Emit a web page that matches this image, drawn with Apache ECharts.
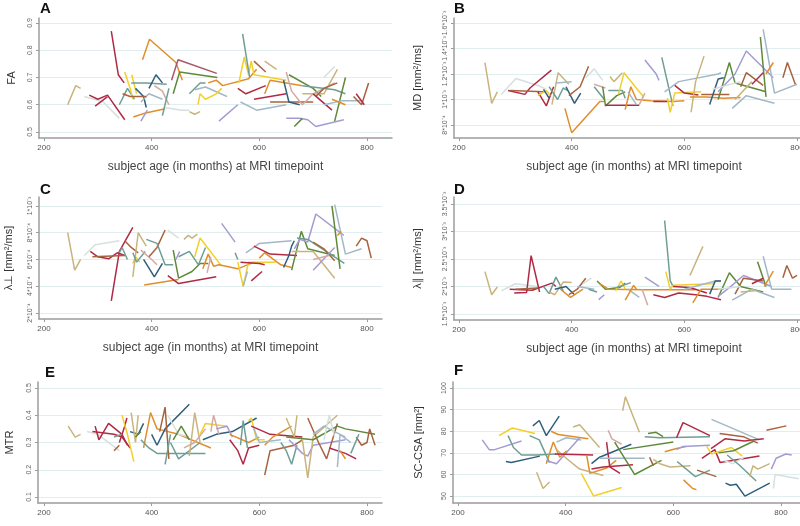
<!DOCTYPE html>
<html>
<head>
<meta charset="utf-8">
<script src="https://cdn.jsdelivr.net/npm/echarts@6/dist/echarts.min.js"></script>
<style>
  html, body { margin: 0; padding: 0; background: #fff; }
  #chart { width: 800px; height: 526px; }
</style>
</head>
<body>
<div id="chart"></div>
<script>
// x axis: subject age in months
const ageTicks = [200, 400, 600, 800];

// A: FA
const faTicks = [0.5, 0.6, 0.7, 0.8, 0.9];
const faTickLabels = ["0.5", "0.6", "0.7", "0.8", "0.9"];
const faTracks = [
  [[244,0.60],[259,0.67],[268,0.66]],
  [[275,0.63],[310,0.61],[340,0.55]],
  [[284,0.635],[300,0.62],[318,0.635],[350,0.545]],
  [[295,0.595],[318,0.63]],
  [[325,0.87],[338,0.71],[349,0.68]],
  [[340,0.60],[355,0.66],[368,0.62]],
  [[350,0.72],[360,0.66],[365,0.62]],
  [[363,0.71],[372,0.64]],
  [[362,0.68],[390,0.68],[428,0.675]],
  [[370,0.66],[385,0.63],[390,0.59]],
  [[380,0.61],[395,0.64],[420,0.62]],
  [[346,0.64],[360,0.63],[390,0.63]],
  [[383,0.765],[396,0.84],[445,0.755],[457,0.69]],
  [[366,0.555],[389,0.57],[425,0.585]],
  [[380,0.54],[392,0.58]],
  [[395,0.66],[408,0.71],[420,0.68]],
  [[405,0.67],[420,0.65],[432,0.60]],
  [[420,0.56],[432,0.66]],
  [[437,0.69],[449,0.765],[521,0.715]],
  [[440,0.64],[452,0.72],[522,0.70]],
  [[425,0.59],[455,0.58],[470,0.58]],
  [[470,0.575],[480,0.565],[490,0.575]],
  [[470,0.64],[490,0.68],[500,0.68]],
  [[480,0.655],[500,0.665],[540,0.63]],
  [[505,0.68],[520,0.69],[532,0.67],[580,0.695],[595,0.73]],
  [[486,0.60],[490,0.64],[500,0.62],[520,0.64],[530,0.66]],
  [[562,0.68],[572,0.775],[580,0.71],[585,0.76],[590,0.71],[650,0.69]],
  [[569,0.86],[582,0.70]],
  [[560,0.66],[575,0.64],[612,0.67]],
  [[590,0.62],[650,0.64]],
  [[525,0.54],[560,0.60]],
  [[565,0.61],[595,0.58],[650,0.60]],
  [[590,0.76],[612,0.72]],
  [[610,0.76],[632,0.73]],
  [[610,0.64],[620,0.69],[650,0.68],[680,0.67]],
  [[620,0.61],[700,0.61]],
  [[645,0.69],[655,0.61],[675,0.60]],
  [[655,0.71],[700,0.66],[715,0.63]],
  [[650,0.55],[675,0.55],[690,0.545],[705,0.52],[757,0.545]],
  [[665,0.52],[680,0.55]],
  [[650,0.72],[660,0.65],[680,0.60],[700,0.64],[740,0.68]],
  [[680,0.64],[720,0.64],[745,0.73]],
  [[680,0.67],[740,0.655],[760,0.64]],
  [[705,0.63],[720,0.66],[745,0.68]],
  [[700,0.64],[735,0.58]],
  [[740,0.54],[760,0.70]],
  [[720,0.70],[740,0.74]],
  [[720,0.60],[755,0.615],[790,0.615]],
  [[775,0.63],[790,0.60],[803,0.68]],
  [[780,0.64],[795,0.60]],
  [[735,0.62],[760,0.60]]
];

// B: MD, in 10^-3 mm²/ms
const mdTicks = [0.8, 1.0, 1.2, 1.4, 1.6];
const mdTickLabels = ["8*10⁻⁴", "1*10⁻³", "1.2*10⁻³", "1.4*10⁻³", "1.6*10⁻³"];
const mdTracks = [
  [[246,1.29],[258,0.97],[268,1.06]],
  [[275,1.04],[301,1.165],[340,1.11],[355,1.08]],
  [[287,1.07],[317,1.04],[326,1.09],[364,1.23]],
  [[290,1.07],[350,1.06]],
  [[340,1.06],[355,0.95],[368,1.10]],
  [[340,1.03],[355,1.07],[362,1.03]],
  [[365,0.96],[376,1.21],[395,1.12]],
  [[360,1.10],[375,1.00],[385,1.09],[393,1.07]],
  [[372,1.13],[400,1.14]],
  [[390,1.10],[405,0.97],[416,1.05]],
  [[395,1.03],[415,1.10],[430,1.26]],
  [[388,0.93],[400,0.74],[450,0.985],[458,0.985]],
  [[425,1.17],[440,1.24],[455,1.15]],
  [[440,1.12],[460,1.09]],
  [[440,1.10],[458,1.00]],
  [[455,1.10],[460,0.95],[480,1.03],[495,1.06]],
  [[465,1.07],[490,1.07],[495,1.01]],
  [[468,1.18],[475,1.14],[490,1.21]],
  [[460,0.955],[520,0.955]],
  [[483,1.04],[493,1.21],[520,1.06],[528,1.02]],
  [[495,0.92],[505,1.10],[515,1.00],[540,0.99],[580,0.985],[600,0.99]],
  [[500,1.06],[515,0.96]],
  [[520,0.96],[530,1.05]],
  [[530,1.31],[550,1.20],[555,1.15]],
  [[545,0.985],[570,0.985]],
  [[560,1.33],[575,1.04],[580,0.95]],
  [[570,1.01],[575,0.90],[583,1.05],[630,1.06]],
  [[565,1.06],[590,1.14],[660,1.20],[665,1.21]],
  [[583,1.11],[600,1.05],[625,1.035]],
  [[612,0.90],[620,1.14],[635,1.34]],
  [[610,1.02],[640,1.02],[670,1.01],[700,1.015]],
  [[630,1.04],[680,1.04]],
  [[645,0.96],[660,1.16],[670,1.17]],
  [[660,1.00],[680,1.29],[690,1.13],[745,1.06]],
  [[660,1.06],[690,1.20],[710,1.38],[758,1.17]],
  [[685,0.93],[710,1.03],[760,0.97]],
  [[700,1.10],[710,1.21],[740,1.11]],
  [[735,1.49],[745,1.02]],
  [[740,1.55],[760,1.05],[800,1.12]],
  [[745,1.20],[758,1.29]],
  [[775,1.17],[783,1.29],[797,1.12]],
  [[690,1.00],[720,1.14]],
  [[720,1.12],[740,1.21]],
  [[350,1.08],[360,1.01]],
  [[650,1.08],[700,1.14]]
];

// C: radial diffusivity, in 10^-4 mm²/ms
const rdTicks = [2, 4, 6, 8, 10];
const rdTickLabels = ["2*10⁻⁴", "4*10⁻⁴", "6*10⁻⁴", "8*10⁻⁴", "1*10⁻³"];
const rdTracks = [
  [[244,8.0],[257,5.2],[268,6.0]],
  [[275,6.3],[295,7.1],[340,7.4]],
  [[286,6.6],[300,6.2],[320,6.05],[336,6.5],[350,6.3]],
  [[325,2.9],[340,6.6],[365,8.4]],
  [[290,6.2],[350,6.3]],
  [[340,6.5],[345,6.9],[355,6.0]],
  [[350,7.4],[362,6.9],[375,6.5]],
  [[365,5.7],[370,6.2],[378,5.8]],
  [[365,4.7],[375,8.0],[390,7.0]],
  [[365,6.5],[372,5.8],[388,6.6]],
  [[380,6.7],[400,6.0],[410,5.6]],
  [[385,6.0],[405,4.7],[420,5.7]],
  [[395,6.2],[410,6.9],[425,8.2]],
  [[390,7.5],[410,7.2],[425,5.6],[440,5.6]],
  [[430,8.2],[450,7.6]],
  [[386,4.1],[450,4.5]],
  [[440,6.7],[450,4.6],[475,5.1],[490,5.7],[505,5.7]],
  [[450,6.2],[470,6.6],[487,5.6],[500,6.9]],
  [[445,6.0],[452,6.6]],
  [[430,4.8],[450,4.2],[520,4.7]],
  [[460,7.5],[468,7.8],[475,7.6],[485,7.9]],
  [[480,6.2],[490,7.6],[530,5.5]],
  [[495,5.3],[505,6.4],[515,5.5],[525,5.6],[560,5.3],[590,5.8]],
  [[503,5.0],[510,6.2]],
  [[530,8.7],[555,7.3]],
  [[555,6.5],[560,6.0]],
  [[560,5.8],[570,4.0],[580,5.8],[630,5.8]],
  [[570,4.0],[578,5.1]],
  [[565,5.8],[600,5.7],[610,5.6]],
  [[585,4.4],[605,5.1]],
  [[600,6.1],[610,6.5],[640,5.6],[660,5.4]],
  [[575,6.5],[600,7.2],[660,7.4]],
  [[590,7.0],[620,6.4],[670,6.3]],
  [[645,5.4],[655,6.3],[660,7.0],[665,7.4]],
  [[660,5.2],[678,8.1],[690,6.8],[740,6.3]],
  [[665,6.8],[675,7.5],[690,7.3],[705,9.4],[757,7.8]],
  [[660,6.6],[700,6.6],[740,4.6]],
  [[670,7.6],[690,7.5],[758,5.7]],
  [[700,7.3],[720,6.8],[740,5.9]],
  [[735,10.0],[750,5.3]],
  [[740,10.1],[760,6.4],[790,6.8]],
  [[745,7.8],[752,8.1]],
  [[780,7.0],[790,7.6],[800,7.4],[808,6.1]],
  [[700,5.2],[740,6.9]],
  [[700,6.0],[730,6.3]]
];

// D: axial diffusivity, in 10^-3 mm²/ms
const adTicks = [1.5, 2, 2.5, 3, 3.5];
const adTickLabels = ["1.5*10⁻³", "2*10⁻³", "2.5*10⁻³", "3*10⁻³", "3.5*10⁻³"];
const adTracks = [
  [[246,2.27],[258,1.85],[268,1.99]],
  [[275,1.92],[300,2.05],[340,2.0]],
  [[290,1.95],[330,1.93],[365,2.06],[372,2.0]],
  [[298,1.88],[320,1.89],[328,2.56],[343,1.9]],
  [[300,1.95],[340,1.97]],
  [[350,2.0],[360,1.87],[372,2.17],[385,1.92]],
  [[360,1.9],[370,1.85],[385,2.08],[400,2.07]],
  [[370,1.95],[390,2.0],[405,1.85]],
  [[380,1.95],[398,1.8],[420,1.95]],
  [[395,1.85],[410,1.95],[425,2.15]],
  [[420,2.05],[435,2.15]],
  [[410,2.0],[440,1.95]],
  [[430,1.95],[445,1.9]],
  [[445,2.1],[460,1.95],[485,1.98],[495,2.06]],
  [[448,1.76],[458,1.85]],
  [[450,2.05],[465,1.95],[530,1.94],[600,1.94],[620,1.94]],
  [[478,1.92],[488,2.1],[495,1.95]],
  [[480,1.98],[505,2.07]],
  [[500,1.95],[520,1.8]],
  [[495,1.75],[510,2.02],[515,1.95]],
  [[525,1.95],[535,1.66]],
  [[530,2.17],[555,2.0]],
  [[545,1.85],[565,1.8],[590,1.88],[620,1.85],[640,1.82],[665,1.76]],
  [[565,3.2],[575,2.1],[580,2.0]],
  [[567,2.27],[575,1.95],[580,2.02],[650,2.05],[655,2.1]],
  [[580,2.0],[610,1.98],[640,1.88]],
  [[610,2.2],[633,2.73]],
  [[615,1.7],[630,1.95],[670,1.95]],
  [[600,1.95],[655,2.1],[665,2.1]],
  [[645,1.86],[655,2.1],[665,2.1]],
  [[660,1.8],[680,2.25],[700,2.0],[740,1.9]],
  [[660,1.82],[680,1.98],[705,2.2],[755,2.0]],
  [[685,1.75],[720,1.95],[760,1.8]],
  [[690,1.86],[705,2.15],[740,2.1]],
  [[730,2.45],[745,2.0]],
  [[740,2.55],[755,1.95],[790,1.95]],
  [[742,2.0],[758,2.28]],
  [[775,2.16],[782,2.38],[792,2.15],[800,2.2]],
  [[700,1.9],[725,1.92]],
  [[720,2.05],[740,2.15]],
  [[660,1.95],[700,2.0]]
];

// E: MTR
const mtrTicks = [0.1, 0.2, 0.3, 0.4, 0.5];
const mtrTickLabels = ["0.1", "0.2", "0.3", "0.4", "0.5"];
const mtrTracks = [
  [[245,0.36],[258,0.32],[268,0.33]],
  [[280,0.34],[300,0.33],[340,0.27]],
  [[290,0.34],[330,0.33],[345,0.32],[360,0.28]],
  [[295,0.36],[302,0.31],[320,0.37],[345,0.33],[355,0.29]],
  [[330,0.27],[340,0.29]],
  [[340,0.30],[350,0.36],[354,0.39]],
  [[345,0.40],[355,0.33],[367,0.23]],
  [[330,0.32],[345,0.33]],
  [[360,0.34],[375,0.33],[385,0.37]],
  [[362,0.41],[370,0.30],[375,0.40]],
  [[370,0.32],[380,0.34]],
  [[385,0.28],[398,0.41],[410,0.35],[450,0.33],[510,0.28]],
  [[380,0.31],[395,0.28],[410,0.26],[450,0.26],[500,0.26]],
  [[400,0.33],[410,0.29],[425,0.35],[470,0.44]],
  [[415,0.34],[425,0.43],[432,0.24]],
  [[425,0.22],[435,0.33]],
  [[430,0.40],[450,0.33],[470,0.32]],
  [[435,0.30],[450,0.24],[490,0.30]],
  [[440,0.31],[455,0.36],[470,0.31]],
  [[470,0.25],[480,0.41],[490,0.30]],
  [[460,0.28],[480,0.30],[500,0.35]],
  [[490,0.33],[500,0.37],[540,0.36]],
  [[495,0.31],[520,0.33],[550,0.34],[595,0.39]],
  [[510,0.34],[515,0.40],[525,0.33]],
  [[520,0.35],[540,0.36],[550,0.32]],
  [[545,0.33],[580,0.30],[600,0.32]],
  [[565,0.29],[570,0.38],[578,0.28]],
  [[580,0.38],[585,0.39],[595,0.31],[610,0.31]],
  [[545,0.31],[560,0.27],[570,0.22],[580,0.28],[600,0.29]],
  [[585,0.36],[620,0.33],[680,0.32]],
  [[610,0.18],[620,0.27],[665,0.29],[680,0.31]],
  [[610,0.29],[625,0.32],[660,0.36]],
  [[590,0.35],[600,0.30],[640,0.31]],
  [[640,0.30],[650,0.27],[660,0.22],[670,0.29]],
  [[650,0.39],[665,0.32],[670,0.40]],
  [[655,0.31],[680,0.26],[690,0.25],[700,0.29],[760,0.31]],
  [[680,0.31],[690,0.17],[700,0.32],[745,0.40]],
  [[690,0.39],[710,0.30],[725,0.24],[745,0.37]],
  [[650,0.32],[700,0.31],[745,0.36],[760,0.35],[815,0.33]],
  [[700,0.33],[720,0.36],[760,0.32]],
  [[720,0.31],[730,0.40],[740,0.32]],
  [[730,0.28],[760,0.26],[780,0.24]],
  [[745,0.21],[750,0.33],[770,0.30]],
  [[780,0.32],[790,0.29],[800,0.30],[805,0.35],[815,0.29]],
  [[750,0.27],[760,0.24]],
  [[770,0.26],[785,0.33]]
];

// F: SC-CSA, mm²
const csaTicks = [50, 60, 70, 80, 90, 100];
const csaTickLabels = ["50", "60", "70", "80", "90", "100"];
const csaTracks = [
  [[245,76],[258,71.5],[268,71.5],[318,75.5]],
  [[276,78],[301,81.5],[343,79]],
  [[293,78],[303,72.5],[318,69],[346,69],[383,69.5]],
  [[289,66],[299,65.5],[352,68.5]],
  [[339,82.5],[351,85],[364,78],[388,87]],
  [[333,78],[351,76],[370,65.5]],
  [[346,61],[358,53.5],[370,56.5]],
  [[364,65],[377,75],[389,68],[402,71]],
  [[383,75],[401,77],[429,76]],
  [[373,80],[386,78.5],[442,76.5]],
  [[383,71.5],[401,67.5],[426,62.5],[470,59.5]],
  [[364,66.5],[383,65],[426,77]],
  [[414,82],[426,83],[463,72.5]],
  [[380,69.5],[451,69]],
  [[429,60.5],[452,50],[504,54]],
  [[448,65],[463,68],[522,74]],
  [[439,69],[445,60.5],[476,63],[494,66.5]],
  [[448,62.5],[470,63.5],[525,64.5]],
  [[476,75],[482,63.5],[501,60.5]],
  [[479,80.5],[486,76.5],[504,74]],
  [[463,67.5],[547,67.5]],
  [[506,89.5],[511,96],[537,79.5]],
  [[491,75],[528,60],[578,66.5]],
  [[507,71.5],[600,75]],
  [[556,68],[563,64]],
  [[563,67],[575,65],[594,63.5],[632,64]],
  [[547,77.5],[575,77],[668,77.5]],
  [[553,79],[568,79.5],[581,77.5]],
  [[584,70.5],[606,72],[625,73]],
  [[606,77],[618,84],[668,78]],
  [[606,71.5],[618,73],[668,73.5]],
  [[607,66],[641,59],[668,62]],
  [[619,57.5],[636,53.5],[643,53]],
  [[644,62],[680,59]],
  [[671,85.5],[760,76]],
  [[653,67.5],[677,71.5],[687,65.5],[760,68.5]],
  [[662,73],[671,69.5],[708,72.5],[728,68.5]],
  [[670,72],[696,76.5],[732,75.5],[768,76.5]],
  [[686,79],[730,77.5],[757,74.5]],
  [[684,70],[712,71],[750,75.5]],
  [[694,66.5],[711,65],[732,68]],
  [[700,69],[722,64.5],[754,57]],
  [[697,56],[706,55],[717,55.5],[733,50],[779,56]],
  [[773,80.5],[810,82.5]],
  [[742,59],[748,64],[757,62.5],[779,65]],
  [[782,62.5],[791,67.5],[809,69.5],[820,69]],
  [[786,53.5],[789,60],[833,58]]
];

// ---- styling ----
const palette = {
  r: "#b02a45", o: "#e08e2b", y: "#f2cf2a", t: "#6f9e94", b: "#2f5f7c",
  g: "#5e8a3a", n: "#a8633e", v: "#a39cd2", k: "#c8b47c", l: "#a3b8c6",
  p: "#d6e0de", i: "#d3aaa3", m: "#a8566a"
};
const faColors = "k p r r r t y y t b l n o o v b i t m g p k t l o y y t r r v l n k o n b g v g i k t n r g p l n r o".split(" ");
const mdColors = "k p r n r y k t l b n o p i t g t k r y o l i v r t y l r k o n b g v l n g l o n k r b p".split(" ");
const rdColors = "k p r r n t n y k t i b n t p o g t v r k y o i v t y l r r o l r b g v k t n g l o n v i".split(" ");
const adColors = "k p r r n t k b o n p l t g v o y t l o i v r t y r k o l b g v l n g l o n k r p".split(" ");
const mtrColors = "k p r r n r y t b k g o t b n t p t g k i y b i v o t y r r n o l t k v k n g l p r l n o t".split(" ");
const csaColors = "v y t b b t k o l o k v k r y b o r r i l k g g n k t g o r v t o n l r y r n g p t b n k v p".split(" ");

const paletteKeys = Object.keys(palette);
const AXIS_GRAY = "#9c9c9c";
const X_TITLE = "subject age (in months) at MRI timepoint";

const panels = [
  { letter: "A", lx: 40, ly: 1, tracks: faTracks, colors: faColors, ticks: faTicks, labels: faTickLabels,
    name: "FA", nameGap: 22, grid: { left: 39, top: 18, width: 353, height: 120 },
    xMin: 190.7, xMax: 846.5, yMin: 0.478, yMax: 0.918 },
  { letter: "B", lx: 454, ly: 1, tracks: mdTracks, colors: mdColors, ticks: mdTicks, labels: mdTickLabels,
    name: "MD [mm²/ms]", nameGap: 31, grid: { left: 454, top: 18, width: 360, height: 120 },
    xMin: 191.1, xMax: 830.2, yMin: 0.698, yMax: 1.639 },
  { letter: "C", lx: 40, ly: 182, tracks: rdTracks, colors: rdColors, ticks: rdTicks, labels: rdTickLabels,
    name: "λ⊥ [mm²/ms]", nameGap: 25, grid: { left: 39, top: 197, width: 343, height: 122 },
    xMin: 190.7, xMax: 827.9, yMin: 1.55, yMax: 10.67 },
  { letter: "D", lx: 454, ly: 182, tracks: adTracks, colors: adColors, ticks: adTicks, labels: adTickLabels,
    name: "λ∥ [mm²/ms]", nameGap: 31, grid: { left: 454, top: 197, width: 360, height: 123 },
    xMin: 191.1, xMax: 830.2, yMin: 1.39, yMax: 3.627 },
  { letter: "E", lx: 45, ly: 365, tracks: mtrTracks, colors: mtrColors, ticks: mtrTicks, labels: mtrTickLabels,
    name: "MTR", nameGap: 23, grid: { left: 38, top: 382, width: 344, height: 121 },
    xMin: 188.9, xMax: 827.9, yMin: 0.078, yMax: 0.522 },
  { letter: "F", lx: 454, ly: 363, tracks: csaTracks, colors: csaColors, ticks: csaTicks, labels: csaTickLabels,
    name: "SC-CSA [mm²]", nameGap: 29, grid: { left: 453, top: 382, width: 360, height: 121 },
    xMin: 190.7, xMax: 859.5, yMin: 46.8, yMax: 102.8 }
];

function tickLabel(ticks, labels, value) {
  let best = 0;
  ticks.forEach((t, i) => {
    if (Math.abs(t - value) < Math.abs(ticks[best] - value)) best = i;
  });
  return labels[best];
}

const chart = echarts.init(document.getElementById("chart"), null, { renderer: "canvas" });

const grids = [];
const xAxes = [];
const yAxes = [];
const series = [];
const graphics = [];

panels.forEach((p, idx) => {
  grids.push(Object.assign({ containLabel: false, outerBoundsMode: "none" }, p.grid));

  xAxes.push({
    gridIndex: idx,
    type: "value",
    min: p.xMin,
    max: p.xMax,
    axisLine: { show: true, onZero: false, lineStyle: { color: AXIS_GRAY, width: 1.5 } },
    axisTick: { show: true, length: 3, customValues: ageTicks, lineStyle: { color: AXIS_GRAY } },
    axisLabel: { customValues: ageTicks, fontSize: 8, color: "#555", margin: 6, fontFamily: "Liberation Sans" },
    splitLine: { show: false },
    name: X_TITLE,
    nameLocation: "middle",
    nameGap: 23,
    nameTextStyle: { fontSize: 12, color: "#444", fontFamily: "Liberation Sans" },
  });

  yAxes.push({
    gridIndex: idx,
    type: "value",
    min: p.yMin,
    max: p.yMax,
    axisLine: { show: true, onZero: false, lineStyle: { color: AXIS_GRAY, width: 1.5 } },
    axisTick: { show: true, length: 3, customValues: p.ticks, lineStyle: { color: AXIS_GRAY } },
    axisLabel: {
      customValues: p.ticks,
      rotate: 90,
      fontSize: 7,
      color: "#666",
      margin: 5,
      fontFamily: "Liberation Sans",
      formatter: (v) => tickLabel(p.ticks, p.labels, v),
    },
    splitLine: { show: true, lineStyle: { color: "#e1eef0", width: 1 } },
    name: p.name,
    nameLocation: "middle",
    nameRotate: 90,
    nameGap: p.nameGap,
    nameTextStyle: { fontSize: 11, color: "#333", fontFamily: "Liberation Sans" },
  });

  p.tracks.forEach((track, i) => {
    const key = p.colors[i] || paletteKeys[i % paletteKeys.length];
    series.push({
      type: "line",
      xAxisIndex: idx,
      yAxisIndex: idx,
      data: track,
      symbol: "none",
      silent: true,
      lineStyle: { width: 1.5, color: palette[key] },
      itemStyle: { color: palette[key] },
    });
  });

  graphics.push({
    type: "text",
    left: p.lx,
    top: p.ly,
    style: { text: p.letter, font: "bold 15px 'Liberation Sans'", fill: "#111" },
  });
});

chart.setOption({
  backgroundColor: "#ffffff",
  animation: false,
  grid: grids,
  xAxis: xAxes,
  yAxis: yAxes,
  series: series,
  graphic: graphics,
});
</script>
</body>
</html>
